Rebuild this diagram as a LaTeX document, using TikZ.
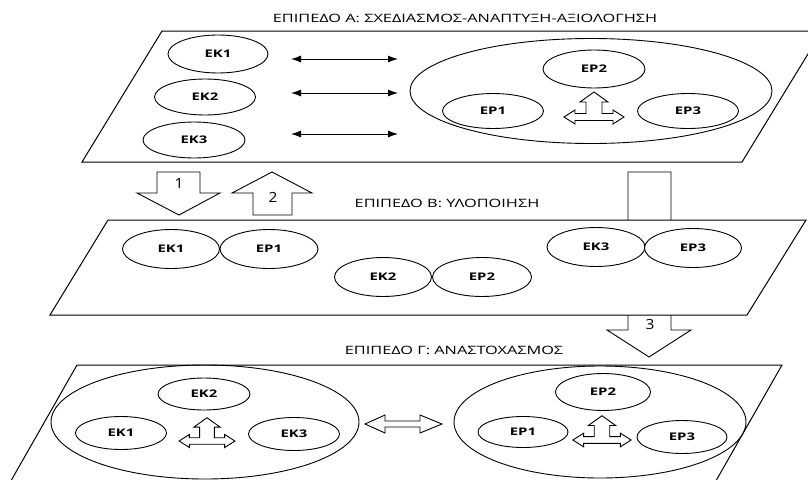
\documentclass[tikz,border=0pt]{standalone}
\usepackage{fontspec}
\setmainfont{Open Sans}
\usetikzlibrary{shapes.geometric,arrows.meta}

\newcommand\wide[1]{\scalebox{1.42}[1]{#1}}

\tikzset{
  plane/.style={draw,fill=white,line width=1pt},
  elli/.style={draw,ellipse,fill=white,inner sep=0pt,line width=0.9pt,
    font=\bfseries\fontsize{10.5}{12}\selectfont},
  bigelli/.style={draw,ellipse,inner sep=0pt,line width=0.9pt},
  blockarr/.style={draw,fill=white,line width=0.9pt},
  title/.style={font=\fontsize{11.5}{13}\selectfont},
  num/.style={font=\fontsize{14}{16}\selectfont},
  triarr/.pic={
    \draw[blockarr] (-30,0) -- (-19,-7) -- (-19,-3.5) -- (-8,-3.5) -- (-8,-15)
      -- (-14,-15) -- (0,-25) -- (14,-15) -- (8,-15) -- (8,-3.5) -- (19,-3.5)
      -- (19,-7) -- (30,0) -- (19,7) -- (19,3.5) -- (-19,3.5) -- (-19,7) -- cycle;
  }
}

\begin{document}
\begin{tikzpicture}[x=1pt,y=-1pt]
\useasboundingbox (0,0) rectangle (808,479);
\clip (0,0) rectangle (808,479);

% level A
\node[title] (titleA) at (465,18) {\wide{ΕΠΙΠΕΔΟ Α: ΣΧΕΔΙΑΣΜΟΣ-ΑΝΑΠΤΥΞΗ-ΑΞΙΟΛΟΓΗΣΗ}};
\draw[plane] (162,31) -- (822,31) -- (742,162) -- (82,162) -- cycle;

\node[bigelli,minimum width=362pt,minimum height=105pt] (allA) at (591,91) {};
\node[elli,minimum width=100pt,minimum height=38pt] (ek1A) at (218,54) {\wide{ΕΚ1}};
\node[elli,minimum width=101pt,minimum height=36pt] (ek2A) at (205,97) {\wide{ΕΚ2}};
\node[elli,minimum width=102pt,minimum height=36pt] (ek3A) at (194,140) {\wide{ΕΚ3}};
\node[elli,minimum width=102pt,minimum height=38pt] (ep2A) at (594,69) {\wide{ΕΡ2}};
\node[elli,minimum width=101pt,minimum height=35pt] (ep1A) at (493,111) {\wide{ΕΡ1}};
\node[elli,minimum width=101pt,minimum height=35pt] (ep3A) at (688,111) {\wide{ΕΡ3}};
\pic at (594,117) {triarr};

\coordinate (l1) at (291,59);  \coordinate (r1) at (398,59);
\coordinate (l2) at (291,93);  \coordinate (r2) at (398,93);
\coordinate (l3) at (291,134); \coordinate (r3) at (398,134);
\foreach \i in {1,2,3}
\draw[{Latex[length=10pt,width=7pt]}-{Latex[length=10pt,width=7pt]},line width=1pt] (l\i) -- (r\i);

% arrows between levels
\draw[blockarr] (157,172) -- (200,172) -- (200,193) -- (220,193) -- (179,215) -- (137,193) -- (157,193) -- cycle;
\node[num] (n1) at (179,184) {\scalebox{1.1}[1]{1}};
\draw[blockarr] (253,215) -- (292,215) -- (292,193) -- (312,193) -- (272,172) -- (232,193) -- (253,193) -- cycle;
\node[num] (n2) at (273,197) {\scalebox{1.1}[1]{2}};
\draw[blockarr] (628,172) -- (671,172) -- (671,330) -- (691,330) -- (649,357) -- (607,330) -- (628,330) -- cycle;

% level B
\node[title] (titleB) at (447,203) {\wide{ΕΠΙΠΕΔΟ Β: ΥΛΟΠΟΙΗΣΗ}};
\draw[plane] (108,220) -- (806,220) -- (747,315) -- (50,315) -- cycle;
\node[num] (n3) at (650,324) {\scalebox{1.1}[1]{3}};

\node[elli,minimum width=97pt,minimum height=39pt] (ek1B) at (171,249) {\wide{ΕΚ1}};
\node[elli,minimum width=98pt,minimum height=39pt] (ep1B) at (269,249) {\wide{ΕΡ1}};
\node[elli,minimum width=97pt,minimum height=39pt] (ek2B) at (383,277) {\wide{ΕΚ2}};
\node[elli,minimum width=99pt,minimum height=39pt] (ep2B) at (482,277) {\wide{ΕΡ2}};
\node[elli,minimum width=98pt,minimum height=39pt] (ek3B) at (596,247) {\wide{ΕΚ3}};
\node[elli,minimum width=97pt,minimum height=39pt] (ep3B) at (693,248) {\wide{ΕΡ3}};

% level C
\node[title] (titleC) at (454,350) {\wide{ΕΠΙΠΕΔΟ Γ: ΑΝΑΣΤΟΧΑΣΜΟΣ}};
\draw[plane] (77,365) -- (782,365) -- (705,500) -- (0,500) -- cycle;

\node[bigelli,minimum width=308pt,minimum height=114pt] (allkC) at (205,422) {};
\node[elli,minimum width=92pt,minimum height=32pt] (ek2C) at (204,394) {\wide{ΕΚ2}};
\node[elli,minimum width=91pt,minimum height=33pt] (ek1C) at (121,433) {\wide{ΕΚ1}};
\node[elli,minimum width=91pt,minimum height=33pt] (ek3C) at (294,434) {\wide{ΕΚ3}};
\pic[scale=0.93] at (207,441) {triarr};

\node[bigelli,minimum width=292pt,minimum height=112pt] (allpC) at (600,422) {};
\node[elli,minimum width=95pt,minimum height=37pt] (ep2C) at (603,392) {\wide{ΕΡ2}};
\node[elli,minimum width=90pt,minimum height=31pt] (ep1C) at (523,432) {\wide{ΕΡ1}};
\node[elli,minimum width=90pt,minimum height=33pt] (ep3C) at (682,437) {\wide{ΕΡ3}};
\pic[scale=0.97] at (602,440) {triarr};

\draw[blockarr] (365,424) -- (385,415) -- (385,421) -- (420,421) -- (420,415) -- (442,424)
  -- (420,433) -- (420,427) -- (385,427) -- (385,433) -- cycle;
\end{tikzpicture}
\end{document}
